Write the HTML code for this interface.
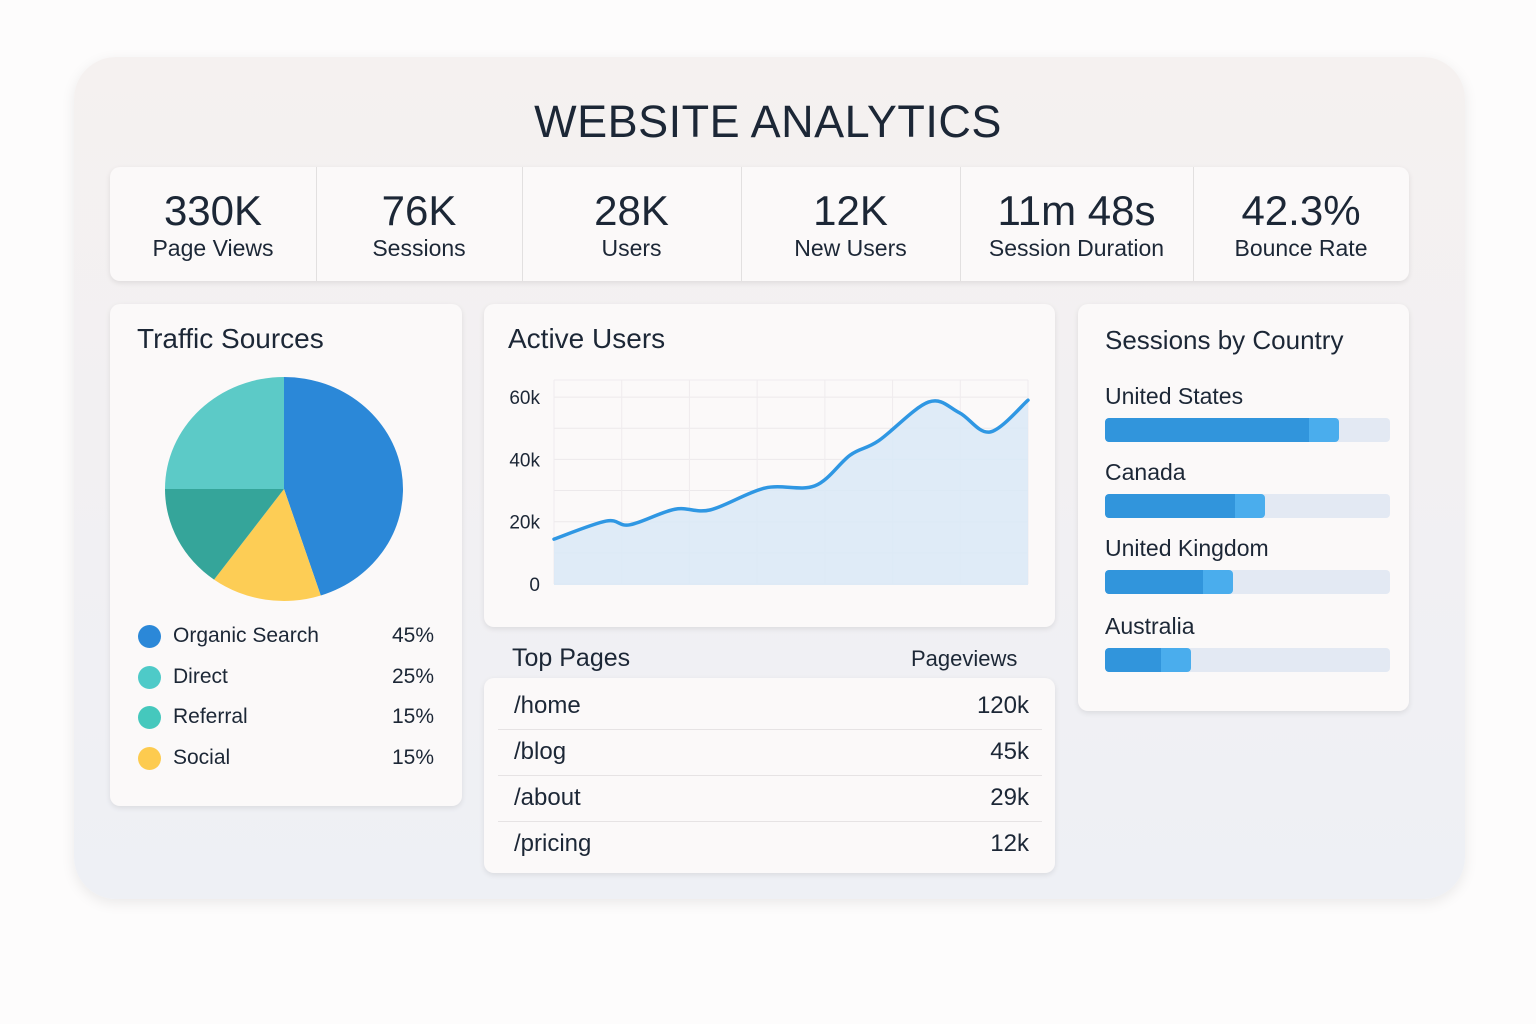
<!DOCTYPE html>
<html><head><meta charset="utf-8">
<style>
*{box-sizing:border-box;margin:0;padding:0}
body{width:1536px;height:1024px;background:#fdfcfc;font-family:"Liberation Sans",sans-serif;color:#1c2736;position:relative;overflow:hidden}
.abs{position:absolute}
.panel{left:74px;top:57px;width:1391px;height:842px;border-radius:42px;background:linear-gradient(180deg,#f5f1f0 0%,#f1f0f3 60%,#eef0f5 100%);box-shadow:0 4px 14px rgba(0,0,0,0.08)}
.card{background:#fbf9f9;border-radius:10px;box-shadow:0 2px 6px rgba(0,0,0,0.09)}
.kpi{top:167px;height:114px;text-align:center}
.kpi .v{position:absolute;top:20px;left:0;right:0;font-size:42px}
.kpi .l{position:absolute;top:68px;left:0;right:0;font-size:23px}
.div{top:167px;width:1px;height:114px;background:#e2e0e0}
.h{font-size:28px}
.leg{font-size:21px}
.row{font-size:24px}
</style></head><body>
<div class="abs panel"></div>
<div class="abs" style="left:0;width:1536px;top:96px;text-align:center;font-size:45px;letter-spacing:0.5px">WEBSITE ANALYTICS</div>

<div class="abs card" style="left:110px;top:167px;width:1299px;height:114px"></div>
<div class="abs kpi" style="left:110px;width:206px"><div class="v">330K</div><div class="l">Page Views</div></div>
<div class="abs kpi" style="left:316px;width:206px"><div class="v">76K</div><div class="l">Sessions</div></div>
<div class="abs kpi" style="left:522px;width:219px"><div class="v">28K</div><div class="l">Users</div></div>
<div class="abs kpi" style="left:741px;width:219px"><div class="v">12K</div><div class="l">New Users</div></div>
<div class="abs kpi" style="left:960px;width:233px"><div class="v">11m 48s</div><div class="l">Session Duration</div></div>
<div class="abs kpi" style="left:1193px;width:216px"><div class="v">42.3%</div><div class="l">Bounce Rate</div></div>
<div class="abs div" style="left:316px"></div>
<div class="abs div" style="left:522px"></div>
<div class="abs div" style="left:741px"></div>
<div class="abs div" style="left:960px"></div>
<div class="abs div" style="left:1193px"></div>

<div class="abs card" style="left:110px;top:304px;width:352px;height:502px"></div>
<div class="abs h" style="left:137px;top:323px">Traffic Sources</div>
<svg class="abs" id="pie" style="left:110px;top:304px" width="352" height="502"></svg>
<div id="legend"></div>

<div class="abs card" style="left:484px;top:304px;width:571px;height:323px"></div>
<div class="abs h" style="left:508px;top:323px">Active Users</div>
<svg class="abs" id="line" style="left:484px;top:304px" width="571" height="323"></svg>

<div class="abs" style="left:512px;top:644px;font-size:25px">Top Pages</div>
<div class="abs" style="left:911px;top:646px;font-size:22px">Pageviews</div>
<div class="abs card" style="left:484px;top:678px;width:571px;height:195px"></div>
<div id="pages"></div>

<div class="abs card" style="left:1078px;top:304px;width:331px;height:407px"></div>
<div class="abs" style="left:1105px;top:325px;font-size:26px">Sessions by Country</div>
<div id="countries"></div>

<script>
const NS="http://www.w3.org/2000/svg";
function mk(tag,attrs,parent){const e=document.createElementNS(NS,tag);for(const k in attrs)e.setAttribute(k,attrs[k]);parent.appendChild(e);return e;}

const sourceNames=["Organic Search","Direct","Referral","Social"];
const sourceValues=[45,25,15,15];
const sourceColors=["#2b88d8","#4ecac8","#45c8bd","#fdcb4f"];
const pieOrder=[0,3,2,1];
const pieFill=["#2b88d8","#5ccac7","#35a59a","#fdcd55"];
const pie=document.getElementById('pie');
(function(){
  const cx=174,cy=185,rx=119,ry=112;const tot=sourceValues.reduce((a,b)=>a+b,0);
  let a=-Math.PI/2;
  pieOrder.forEach(i=>{
    const s=a,e=a+sourceValues[i]/tot*2*Math.PI;a=e;
    const x1=cx+rx*Math.cos(s),y1=cy+ry*Math.sin(s),x2=cx+rx*Math.cos(e),y2=cy+ry*Math.sin(e);
    const p=mk('path',{d:`M${cx},${cy}L${x1},${y1}A${rx},${ry} 0 ${e-s>Math.PI?1:0} 1 ${x2},${y2}Z`,fill:pieFill[i]},pie);
    
    
  });
})();
const legend=document.getElementById('legend');
sourceNames.forEach((n,i)=>{
  const y=636+i*40.5;
  const d=document.createElement('div');d.className='abs leg';d.style.cssText=`left:138px;top:${y-14}px;width:296px;height:28px`;
  d.innerHTML=`<span style="position:absolute;left:0;top:3px;width:23px;height:23px;border-radius:50%;background:${sourceColors[i]}"></span><span style="position:absolute;left:35px;top:2px">${n}</span><span style="position:absolute;right:0;top:2px">${sourceValues[i]}%</span>`;
  
  
  legend.appendChild(d);
});

const days=[0,11,16,25.5,33,44.5,55,62.5,68.5,79,85.5,92,100];
const activeUsers=[14.4,20.2,19,24,23.8,30.8,31.5,41.4,46,58.4,55,48.8,59];
const yTicks=[0,20,40,60];
const yTickLabels=["0","20k","40k","60k"];
const line=document.getElementById('line');
(function(){
  const X0=70,X1=544,Y0=280,pxPer=62.3/20;
  const xs=d=>X0+(X1-X0)*d/100, ys=v=>Y0-v*pxPer;
  [0,10,20,30,40,50,60].forEach(v=>{const l=mk('line',{x1:X0,x2:X1,y1:ys(v),y2:ys(v),stroke:'#ece9eb','stroke-width':1},line);
    });
  for(let k=0;k<=7;k++){const x=X0+k*(X1-X0)/7;const l=mk('line',{x1:x,x2:x,y1:76,y2:Y0,stroke:'#efecee'},line);
    }
  mk('line',{x1:X0,x2:X1,y1:76,y2:76,stroke:'#efecee'},line);
  yTicks.forEach((v,i)=>{const t=mk('text',{x:X0-14,y:ys(v)+7,'text-anchor':'end','font-size':19,fill:'#1c2736','font-family':'Liberation Sans'},line);
    t.textContent=yTickLabels[i];});
  const P=days.map((d,i)=>[xs(d),ys(activeUsers[i])]);
  let d=`M${P[0][0]},${P[0][1]}`;
  for(let i=0;i<P.length-1;i++){const p0=P[i-1]||P[i],p1=P[i],p2=P[i+1],p3=P[i+2]||p2;
    d+=`C${p1[0]+(p2[0]-p0[0])/6},${p1[1]+(p2[1]-p0[1])/6} ${p2[0]-(p3[0]-p1[0])/6},${p2[1]-(p3[1]-p1[1])/6} ${p2[0]},${p2[1]}`;}
  const a=mk('path',{d:d+`L${X1},${Y0+1}L${X0},${Y0+1}Z`,fill:'#d9e9f7','fill-opacity':0.85},line);
  
  const l=mk('path',{d,fill:'none',stroke:'#2f97e3','stroke-width':3.5,'stroke-linecap':'round'},line);
  
})();

const pageNames=["/home","/blog","/about","/pricing"];
const pageViews=["120k","45k","29k","12k"];
const pages=document.getElementById('pages');
pageNames.forEach((n,i)=>{
  const top=684+i*46;
  const r=document.createElement('div');r.className='abs row';
  r.style.cssText=`left:498px;top:${top}px;width:544px;height:46px;${i<3?'border-bottom:1px solid #e6e3e4':''}`;
  r.innerHTML=`<span style="position:absolute;left:16px;top:8px">${n}</span><span style="position:absolute;right:13px;top:8px">${pageViews[i]}</span>`;
  
  
  pages.appendChild(r);
});

const countryNames=["United States","Canada","United Kingdom","Australia"];
const countryShares=[82,56,45,30];
const cEl=document.getElementById('countries');
countryNames.forEach((n,i)=>{
  const y=[383,459,535,613][i];
  const lab=document.createElement('div');lab.className='abs';lab.style.cssText=`left:1105px;top:${y}px;font-size:23px`;lab.textContent=n;
  
  
  cEl.appendChild(lab);
  const tr=document.createElement('div');tr.className='abs';tr.style.cssText=`left:1105px;top:${y+35}px;width:285px;height:24px;border-radius:4px;background:#e3e9f3;overflow:hidden`;
  const w=285*countryShares[i]/100;
  tr.innerHTML=`<div style="position:absolute;left:0;top:0;height:24px;width:${w}px;background:#4aaded;border-radius:4px"></div><div style="position:absolute;left:0;top:0;height:24px;width:${w-30}px;background:#3195dc;border-radius:4px 0 0 4px"></div>`;
  
  
  cEl.appendChild(tr);
});
</script>
</body></html>
